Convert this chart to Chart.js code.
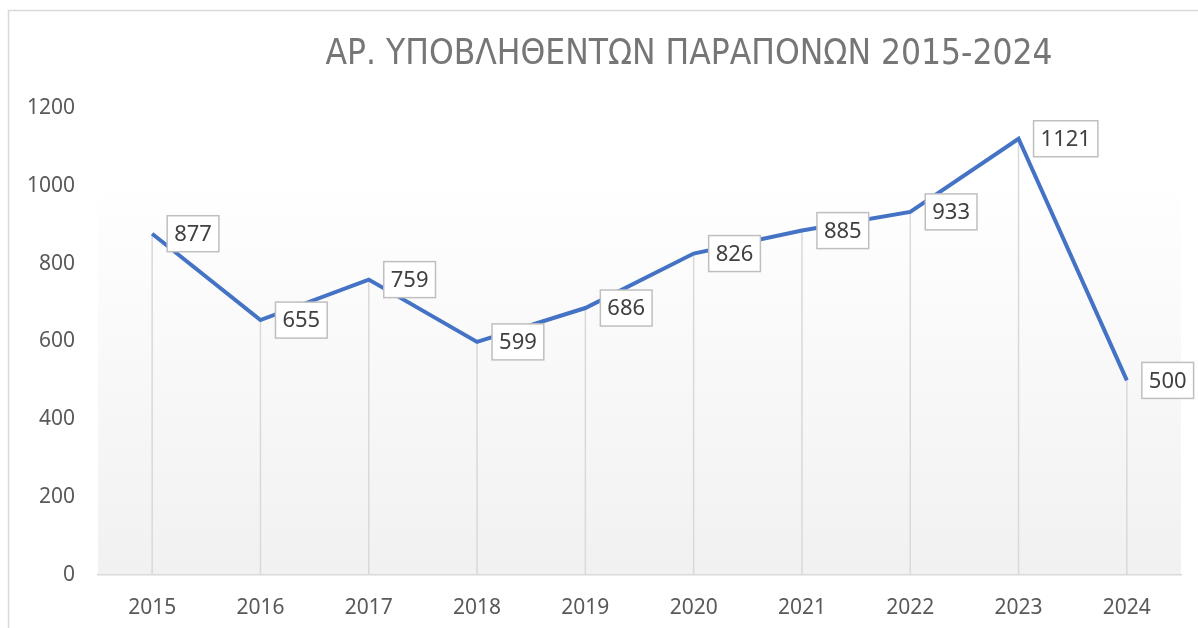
<!DOCTYPE html>
<html lang="el">
<head>
<meta charset="UTF-8" />
<title>Αρ. υποβληθέντων παραπόνων</title>
<script src="https://cdn.jsdelivr.net/npm/chart.js"></script>
<style>
  html, body { margin: 0; padding: 0; background: #fff; }
  #wrap { width: 1198px; height: 628px; }
</style>
</head>
<body>
<div id="wrap"><canvas id="grafima"></canvas></div>
<script>
    const etiketes = ['2015', '2016', '2017', '2018', '2019', '2020', '2021', '2022', '2023', '2024'];
    const parapona = [877, 655, 759, 599, 686, 826, 885, 933, 1121, 500];
    const yTicks = [0, 200, 400, 600, 800, 1000, 1200];
    const titlos = 'ΑΡ. ΥΠΟΒΛΗΘΕΝΤΩΝ ΠΑΡΑΠΟΝΩΝ 2015-2024';

    const font = '"Noto Sans", "Open Sans", sans-serif';

    // background, drop lines, value boxes, title
    const extras = {
        id: 'extras',
        beforeDraw(chart) {
            const { ctx, chartArea: a } = chart;
            ctx.save();
            ctx.strokeStyle = '#d9d9d9';
            ctx.lineWidth = 1.5;
            ctx.strokeRect(8.5, 10.5, 1400, 800);
            const g = ctx.createLinearGradient(0, a.top, 0, a.bottom);
            g.addColorStop(0, '#ffffff');
            g.addColorStop(0.15, '#ffffff');
            g.addColorStop(1, '#f1f1f1');
            ctx.fillStyle = g;
            ctx.fillRect(a.left, a.top, a.right - a.left, a.bottom - a.top);
            ctx.restore();
        },
        beforeDatasetsDraw(chart) {
            const { ctx } = chart;
            const y0 = chart.scales.y.getPixelForValue(0);
            ctx.save();
            ctx.strokeStyle = '#d9d9d9';
            ctx.lineWidth = 1.5;
            chart.getDatasetMeta(0).data.forEach(p => {
                ctx.beginPath();
                ctx.moveTo(p.x, p.y);
                ctx.lineTo(p.x, y0);
                ctx.stroke();
            });
            ctx.restore();
        },
        afterDatasetsDraw(chart) {
            const { ctx } = chart;
            ctx.save();
            ctx.font = '22px ' + font;
            ctx.textBaseline = 'middle';
            chart.getDatasetMeta(0).data.forEach((p, i) => {
                const txt = String(parapona[i]);
                const w = ctx.measureText(txt).width + 14;
                const h = 36;
                const bx = p.x + 15, by = p.y - h / 2;
                ctx.fillStyle = '#ffffff';
                ctx.fillRect(bx, by, w, h);
                ctx.strokeStyle = '#bfbfbf';
                ctx.lineWidth = 1.5;
                ctx.strokeRect(bx, by, w, h);
                ctx.fillStyle = '#404040';
                ctx.fillText(txt, bx + 7, by + h / 2 + 1);
            });
            ctx.restore();
        },
        afterDraw(chart) {
            const { ctx } = chart;
            ctx.save();
            ctx.font = '35px "DejaVu Sans Condensed", "DejaVu Sans", sans-serif';
            ctx.fillStyle = '#767676';
            ctx.textAlign = 'center';
            ctx.textBaseline = 'middle';
            ctx.fillText(titlos, 689, 55);
            ctx.restore();
        }
    };

    new Chart(document.getElementById('grafima'), {
        type: 'line',
        data: {
            labels: etiketes,
            datasets: [{
                data: parapona,
                borderColor: '#4472c4',
                borderWidth: 4,
                pointRadius: 0,
                tension: 0,
                fill: false
            }]
        },
        options: {
            responsive: true,
            maintainAspectRatio: false,
            animation: false,
            layout: { padding: { top: 108, right: 17, left: 0, bottom: 0 } },
            plugins: {
                legend: { display: false },
                title: { display: false },
                tooltip: { enabled: false }
            },
            scales: {
                x: {
                    offset: true,
                    grid: { display: false, drawTicks: false },
                    border: { color: '#d9d9d9', width: 1.5 },
                    ticks: { color: '#595959', font: { family: font, size: 21 }, padding: 20, maxRotation: 0 },
                    afterFit(s) { s.height = 53; }
                },
                y: {
                    min: 0,
                    max: 1200,
                    grid: { display: false, drawTicks: false },
                    border: { display: false },
                    afterBuildTicks(s) { s.ticks = yTicks.map(v => ({ value: v })); },
                    ticks: {
                        color: '#595959',
                        font: { family: font, size: 21 },
                        padding: 23,
                        callback: v => String(v)
                    },
                    afterFit(s) { s.width = 98; }
                }
            }
        },
        plugins: [extras]
    });
</script>
</body>
</html>
